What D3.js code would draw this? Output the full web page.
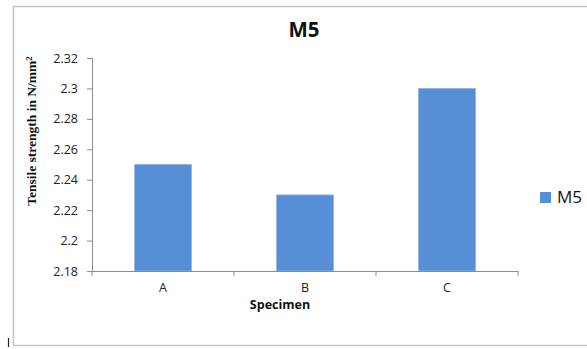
<!DOCTYPE html>
<html>
<head>
<meta charset="utf-8">
<script src="https://cdn.jsdelivr.net/npm/d3@7"></script>
<style>
  html, body { margin: 0; padding: 0; background: #fff; }
  svg { display: block; }
</style>
</head>
<body>
<svg id="chart" width="587" height="349"></svg>
<script>
// Tensile strength per specimen, mix M5
const categories = ["A", "B", "C"];
const values = [2.25, 2.23, 2.30];
const yTicks = [2.18, 2.2, 2.22, 2.24, 2.26, 2.28, 2.3, 2.32];
const seriesName = "M5";

const svg = d3.select("#chart");
const barColor = "#568fd6";
const axisColor = "#8c8c8c";

// Chart area frame
svg.append("rect")
  .attr("x", 13.5).attr("y", 6.5)
  .attr("width", 600).attr("height", 339)
  .attr("fill", "none").attr("stroke", "#c4c4c4").attr("stroke-width", 1.5);

const plot = { left: 92, right: 518, top: 58, bottom: 271 };

const x = d3.scaleBand().domain(categories).range([plot.left, plot.right]).padding(0);
const y = d3.scaleLinear().domain([2.18, 2.32]).range([plot.bottom, plot.top]);

// Bars
const barW = x.bandwidth() * 0.4;
svg.append("g").selectAll("rect")
  .data(values)
  .join("rect")
  .attr("x", (d, i) => x(categories[i]) + (x.bandwidth() - barW) / 2)
  .attr("y", d => y(d))
  .attr("width", barW)
  .attr("height", d => y(2.18) - y(d))
  .attr("fill", barColor)
  .attr("stroke", "#8fb4e3").attr("stroke-width", 0.8);

// Y axis
const yAxis = svg.append("g")
  .attr("transform", `translate(${plot.left},0)`)
  .call(d3.axisLeft(y).tickValues(yTicks).tickSize(5).tickPadding(9)
    .tickFormat(d => d3.format("")(+d.toFixed(2))));
yAxis.select(".domain").attr("stroke", axisColor);
yAxis.selectAll(".tick line").attr("stroke", axisColor);
yAxis.selectAll("text")
  .attr("font-family", "'Open Sans', sans-serif")
  .attr("font-size", 12.5).attr("fill", "#222");

// X axis with ticks on band boundaries
const xAxis = svg.append("g")
  .attr("transform", `translate(0,${plot.bottom})`)
  .call(d3.axisBottom(x).tickSize(0).tickPadding(12));
xAxis.select(".domain").attr("stroke", axisColor);
xAxis.selectAll("text")
  .attr("font-family", "'Open Sans', sans-serif")
  .attr("font-size", 12.5).attr("fill", "#222");
const bounds = categories.map(c => x(c)).concat([plot.right]);
svg.append("g").selectAll("line")
  .data(bounds)
  .join("line")
  .attr("x1", d => d).attr("x2", d => d)
  .attr("y1", plot.bottom).attr("y2", plot.bottom + 5)
  .attr("stroke", axisColor);

// Title
svg.append("text")
  .attr("x", 304).attr("y", 37)
  .attr("text-anchor", "middle")
  .attr("font-family", "'Open Sans', sans-serif")
  .attr("font-weight", "bold").attr("font-size", 20.5)
  .attr("fill", "#111")
  .text(seriesName);

// Axis titles
svg.append("text")
  .attr("x", 280).attr("y", 309)
  .attr("text-anchor", "middle")
  .attr("font-family", "'Open Sans', sans-serif")
  .attr("font-weight", "bold").attr("font-size", 12.5)
  .attr("fill", "#111")
  .text("Specimen");

const yTitle = svg.append("text")
  .attr("transform", "translate(36,131) rotate(-90)")
  .attr("text-anchor", "middle")
  .attr("font-family", "'Liberation Serif', 'Times New Roman', serif")
  .attr("font-weight", "bold").attr("font-size", 13.5)
  .attr("fill", "#111");
yTitle.append("tspan").text("Tensile strength in N/mm");
yTitle.append("tspan").attr("dy", -4.5).attr("font-size", 9).text("2");

// Legend
svg.append("rect")
  .attr("x", 540).attr("y", 192)
  .attr("width", 11).attr("height", 11)
  .attr("fill", barColor);
svg.append("text")
  .attr("x", 557).attr("y", 202.5)
  .attr("font-family", "'Open Sans', sans-serif")
  .attr("font-size", 17).attr("fill", "#111")
  .text(seriesName);

// Small text-cursor mark at the lower left
svg.append("line")
  .attr("x1", 8.5).attr("x2", 8.5)
  .attr("y1", 338).attr("y2", 347)
  .attr("stroke", "#222").attr("stroke-width", 1.2);
</script>
</body>
</html>
